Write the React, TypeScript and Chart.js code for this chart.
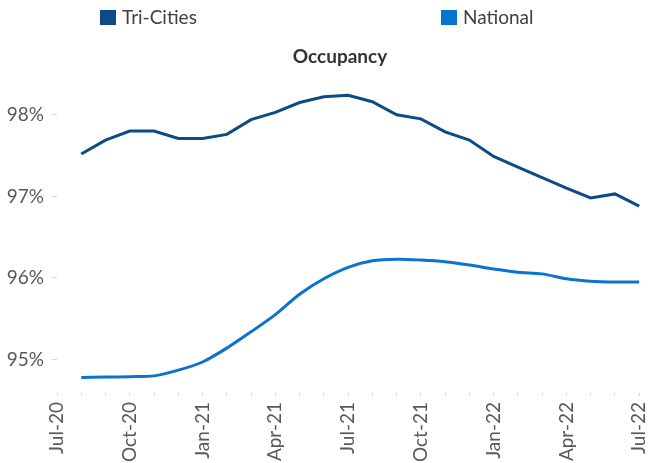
import React, { useEffect, useRef } from 'react';
import { Chart, registerables } from 'chart.js';

Chart.register(...registerables);

const chartTitle = 'Occupancy';

const months = [
  'Jul-20', 'Aug-20', 'Sep-20', 'Oct-20', 'Nov-20', 'Dec-20',
  'Jan-21', 'Feb-21', 'Mar-21', 'Apr-21', 'May-21', 'Jun-21',
  'Jul-21', 'Aug-21', 'Sep-21', 'Oct-21', 'Nov-21', 'Dec-21',
  'Jan-22', 'Feb-22', 'Mar-22', 'Apr-22', 'May-22', 'Jun-22',
  'Jul-22',
];

const triCities = [
  null, 97.52, 97.69, 97.8, 97.8, 97.71,
  97.71, 97.76, 97.94, 98.03, 98.15, 98.22,
  98.24, 98.16, 98.0, 97.95, 97.79, 97.69,
  97.49, 97.36, 97.23, 97.1, 96.98, 97.03,
  96.88,
];

const national = [
  null, 94.78, 94.785, 94.79, 94.8, 94.87,
  94.97, 95.14, 95.34, 95.55, 95.8, 95.99,
  96.13, 96.21, 96.23, 96.22, 96.2, 96.16,
  96.11, 96.07, 96.05, 95.99, 95.96, 95.95,
  95.95,
];

const seriesNames = ['Tri-Cities', 'National'];
const yTickValues = [95, 96, 97, 98];
const yMin = 94.59;
const yMax = 98.5;

const COLORS = ['#0E4B86', '#0A73CD'];
const FONT = 'Lato, "Open Sans", sans-serif';

const headerPlugin = {
  id: 'header',
  afterDraw(chart: any) {
    const ctx = chart.ctx;
    ctx.save();
    // legend
    const starts = [100, 441];
    seriesNames.forEach((name, i) => {
      ctx.fillStyle = COLORS[i];
      ctx.fillRect(starts[i], 10, 16, 15);
      ctx.fillStyle = '#404040';
      ctx.font = `19px ${FONT}`;
      ctx.textAlign = 'left';
      ctx.textBaseline = 'middle';
      ctx.fillText(name, starts[i] + 22, 18);
    });
    // title
    ctx.fillStyle = '#333333';
    ctx.font = `bold 19px ${FONT}`;
    ctx.textAlign = 'center';
    ctx.textBaseline = 'middle';
    ctx.fillText(chartTitle, 340, 57);
    ctx.restore();
  },
};

export default function App() {
  const ref = useRef<HTMLCanvasElement | null>(null);

  useEffect(() => {
    if (!ref.current) return;
    const chart = new Chart(ref.current, {
      type: 'line',
      data: {
        labels: months,
        datasets: [
          {
            label: seriesNames[0],
            data: triCities,
            borderColor: COLORS[0],
            backgroundColor: COLORS[0],
            borderWidth: 3,
            pointRadius: 0,
            tension: 0,
          },
          {
            label: seriesNames[1],
            data: national,
            borderColor: COLORS[1],
            backgroundColor: COLORS[1],
            borderWidth: 3,
            pointRadius: 0,
            tension: 0.3,
          },
        ],
      },
      options: {
        responsive: false,
        animation: false,
        layout: { padding: { top: 74, right: 8, left: 0, bottom: 0 } },
        plugins: {
          legend: { display: false },
          title: { display: false },
          tooltip: { enabled: false },
        },
        scales: {
          x: {
            type: 'category',
            offset: false,
            border: { display: false },
            grid: {
              drawOnChartArea: false,
              drawTicks: true,
              tickLength: 3,
              color: '#D9D9D9',
            },
            ticks: {
              autoSkip: false,
              minRotation: 90,
              maxRotation: 90,
              padding: 6,
              color: '#595959',
              font: { family: FONT, size: 19 },
              callback: (_v: any, i: number) => (i % 3 === 0 ? months[i] : ''),
            },
            afterFit: (scale: any) => {
              scale.height = 70;
            },
          },
          y: {
            min: yMin,
            max: yMax,
            border: { display: false },
            grid: {
              drawOnChartArea: false,
              drawTicks: true,
              tickLength: 5,
              color: '#D9D9D9',
            },
            afterBuildTicks: (scale: any) => {
              scale.ticks = yTickValues.map((v) => ({ value: v }));
            },
            ticks: {
              includeBounds: false,
              padding: 8,
              color: '#595959',
              font: { family: FONT, size: 19 },
              callback: (v: any) => `${Math.round(Number(v))}%`,
            },
            afterFit: (scale: any) => {
              scale.width = 57;
            },
          },
        },
      },
      plugins: [headerPlugin],
    } as any);
    return () => chart.destroy();
  }, []);

  return (
    <div style={{ position: 'fixed', left: 0, top: 0, width: 668, height: 463, background: '#fff' }}>
      <canvas ref={ref} width={668} height={463} />
    </div>
  );
}
